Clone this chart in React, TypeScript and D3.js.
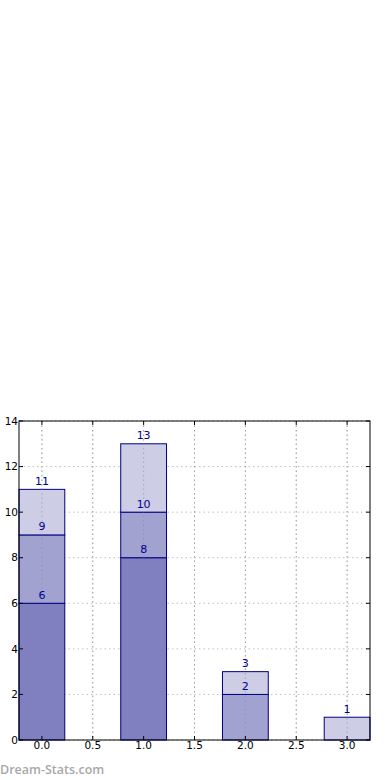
import React, { useEffect, useRef } from "react";
import * as d3 from "d3";

const categories = [0, 1, 2, 3];
const seriesA = [6, 8, 0, 0];
const seriesB = [3, 2, 2, 0];
const seriesC = [2, 3, 1, 1];
const xTicks = [0, 0.5, 1, 1.5, 2, 2.5, 3];
const yTicks = [0, 2, 4, 6, 8, 10, 12, 14];
const fills = ["#8080c0", "#a2a2d1", "#cdcde5"];

export default function App() {
  const ref = useRef<SVGSVGElement>(null);
  useEffect(() => {
    const svg = d3.select(ref.current);
    svg.selectAll("*").remove();
    const L = 19, R = 370, T = 421, B = 740;
    const x = d3.scaleLinear().domain([-0.225, 3.225]).range([L, R]);
    const y = d3.scaleLinear().domain([0, 14]).range([B, T]);
    const font = "DejaVu Sans, sans-serif";

    // grid
    const g = svg.append("g");
    xTicks.forEach((t) => {
      g.append("line").attr("x1", x(t)).attr("x2", x(t)).attr("y1", T).attr("y2", B)
        .attr("stroke", "#c0c0c0").attr("stroke-dasharray", "1.5,3").attr("stroke-width", 1);
    });
    yTicks.forEach((t) => {
      g.append("line").attr("x1", L).attr("x2", R).attr("y1", y(t)).attr("y2", y(t))
        .attr("stroke", "#c0c0c0").attr("stroke-dasharray", "1.5,3").attr("stroke-width", 1);
    });

    const series = [seriesA, seriesB, seriesC];
    const bw = 0.45;
    categories.forEach((c, i) => {
      let base = 0;
      series.forEach((s, k) => {
        const v = s[i];
        if (v > 0) {
          svg.append("rect")
            .attr("x", x(c - bw / 2)).attr("width", x(c + bw / 2) - x(c - bw / 2))
            .attr("y", y(base + v)).attr("height", y(base) - y(base + v))
            .attr("fill", fills[k]).attr("stroke", "#000080").attr("stroke-width", 1);
        }
        base += v;
      });
    });
    // grid over bars
    const g2 = svg.append("g").attr("opacity", 0.6);
    xTicks.forEach((t) => {
      g2.append("line").attr("x1", x(t)).attr("x2", x(t)).attr("y1", T).attr("y2", B)
        .attr("stroke", "#8a8aa0").attr("stroke-dasharray", "1.5,3").attr("stroke-width", 1);
    });
    // labels
    categories.forEach((c, i) => {
      let base = 0;
      series.forEach((s) => {
        const v = s[i];
        base += v;
        if (v > 0) {
          svg.append("text").attr("x", x(c)).attr("y", y(base) - 4.5)
            .attr("text-anchor", "middle").attr("font-family", font).attr("font-size", 11)
            .attr("fill", "#000090").text(String(base));
        }
      });
    });

    // frame
    svg.append("rect").attr("x", L).attr("y", T).attr("width", R - L).attr("height", B - T)
      .attr("fill", "none").attr("stroke", "#000").attr("stroke-width", 1);

    // ticks
    xTicks.forEach((t) => {
      svg.append("line").attr("x1", x(t)).attr("x2", x(t)).attr("y1", B).attr("y2", B - 4).attr("stroke", "#000");
      svg.append("line").attr("x1", x(t)).attr("x2", x(t)).attr("y1", T).attr("y2", T + 4).attr("stroke", "#000");
      svg.append("text").attr("x", x(t)).attr("y", B + 9).attr("text-anchor", "middle")
        .attr("font-family", font).attr("font-size", 10.5).attr("fill", "#000")
        .text(d3.format(".1f")(t));
    });
    yTicks.forEach((t) => {
      svg.append("line").attr("x1", L).attr("x2", L + 4).attr("y1", y(t)).attr("y2", y(t)).attr("stroke", "#000");
      svg.append("line").attr("x1", R).attr("x2", R - 4).attr("y1", y(t)).attr("y2", y(t)).attr("stroke", "#000");
      svg.append("text").attr("x", L - 1).attr("y", y(t) + 3.7).attr("text-anchor", "end")
        .attr("font-family", font).attr("font-size", 10.5).attr("fill", "#000").text(String(t));
    });

    svg.append("text").attr("x", 0).attr("y", 774).attr("font-family", "Open Sans, sans-serif")
      .attr("font-weight", 600).attr("font-size", 12.5).attr("fill", "#a8a8a8").text("Dream-Stats.com");
  }, []);
  return (
    <svg ref={ref} width={390} height={780}
      style={{ position: "absolute", left: 0, top: 0, background: "#fff" }} />
  );
}
